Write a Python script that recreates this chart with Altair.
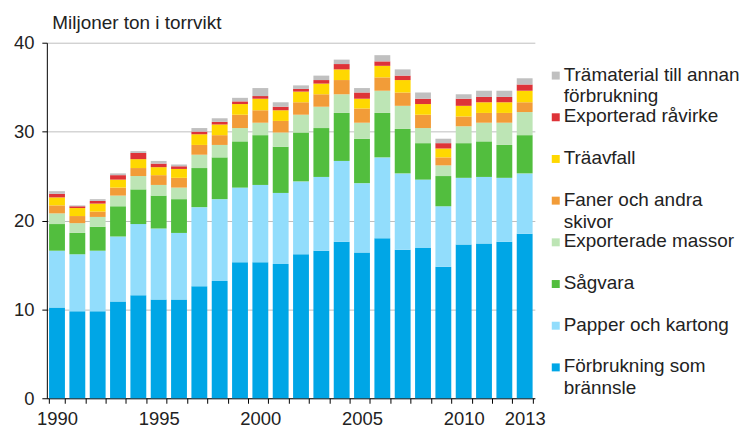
import altair as alt
import pandas as pd

years = [str(y) for y in range(1990, 2014)]

# stack order: bottom -> top
categories = [
    "Förbrukning som brännsle",
    "Papper och kartong",
    "Sågvara",
    "Exporterade massor",
    "Faner och andra skivor",
    "Träavfall",
    "Exporterad råvirke",
    "Trämaterial till annan förbrukning",
]
label_line1 = [
    "Förbrukning som",
    "Papper och kartong",
    "Sågvara",
    "Exporterade massor",
    "Faner och andra",
    "Träavfall",
    "Exporterad råvirke",
    "Trämaterial till annan",
]
label_line2 = ["brännsle", "", "", "", "skivor", "", "", "förbrukning"]
colors = ["#00A6E6", "#92DDFC", "#52BE3E", "#BDE5B5", "#F29C38", "#FFD800", "#DE3338", "#C0C0C0"]

fuel = [10.2, 9.8, 9.8, 10.9, 11.6, 11.1, 11.1, 12.6, 13.2, 15.3, 15.3, 15.1,
        16.2, 16.6, 17.6, 16.4, 18.0, 16.7, 16.9, 14.8, 17.3, 17.4, 17.6, 18.5]
paper = [6.4, 6.4, 6.8, 7.3, 8.0, 8.0, 7.5, 8.9, 9.2, 8.4, 8.7, 8.0,
         8.2, 8.3, 9.1, 7.8, 9.1, 8.6, 7.7, 6.8, 7.5, 7.5, 7.2, 6.8]
sawn = [3.0, 2.4, 2.7, 3.4, 3.9, 3.7, 3.8, 4.4, 4.7, 5.2, 5.6, 5.2,
        5.5, 5.5, 5.4, 5.0, 5.0, 5.0, 4.1, 3.4, 3.9, 4.0, 3.7, 4.3]
pulp = [1.2, 1.1, 1.1, 1.2, 1.5, 1.2, 1.3, 1.5, 1.4, 1.5, 1.4, 1.6,
        2.0, 2.4, 2.1, 1.8, 2.5, 2.6, 1.7, 1.2, 1.9, 2.1, 2.5, 2.6]
panels = [0.9, 0.8, 0.6, 0.9, 0.9, 1.1, 1.1, 1.1, 1.1, 1.5, 1.4, 1.3,
          1.4, 1.4, 1.6, 1.6, 1.5, 1.5, 1.5, 0.9, 1.1, 1.1, 1.1, 1.1]
waste = [0.9, 0.9, 0.9, 0.9, 1.0, 0.9, 1.0, 1.2, 1.2, 1.2, 1.3, 1.2,
         1.2, 1.2, 1.2, 1.1, 1.3, 1.4, 1.2, 1.0, 1.2, 1.2, 1.2, 1.3]
roundwood = [0.4, 0.2, 0.3, 0.5, 0.7, 0.4, 0.3, 0.3, 0.3, 0.3, 0.3, 0.4,
             0.3, 0.4, 0.6, 0.7, 0.5, 0.5, 0.6, 0.6, 0.8, 0.6, 0.6, 0.7]
other = [0.3, 0.1, 0.2, 0.2, 0.2, 0.3, 0.2, 0.4, 0.4, 0.4, 0.9, 0.5,
         0.4, 0.5, 0.5, 0.5, 0.7, 0.7, 0.7, 0.5, 0.5, 0.7, 0.7, 0.7]

shown_years = ["1990", "1995", "2000", "2005", "2010", "2013"]

series = [fuel, paper, sawn, pulp, panels, waste, roundwood, other]
rows = []
for i, (cat, vals) in enumerate(zip(categories, series)):
    for yr, v in zip(years, vals):
        rows.append({"year": yr, "category": cat, "value": v, "ord": i})
df = pd.DataFrame(rows)

FONT = "Liberation Sans"
TXT = "#222222"

color_scale = alt.Scale(domain=categories, range=colors)

label_expr = "indexof(" + str(shown_years) + ", datum.label) >= 0 ? datum.label : ''"

bars = alt.Chart(df).mark_bar().encode(
    x=alt.X("year:O", sort=years,
            scale=alt.Scale(paddingInner=0.22, paddingOuter=0.11),
            axis=alt.Axis(title=None, tickBand="extent", labelExpr=label_expr,
                          labelAngle=0, labelFontSize=18.5, labelFont=FONT, labelColor=TXT,
                          labelPadding=6, labelOverlap=False, labelFlush=False,
                          tickSize=5, tickColor="#000000", domainColor="#000000",
                          grid=False)),
    y=alt.Y("value:Q", stack="zero",
            scale=alt.Scale(domain=[0, 40]),
            axis=alt.Axis(values=[0, 10, 20, 30, 40], title="Miljoner ton i torrvikt",
                          titleAngle=0, titleX=5, titleY=-20, titleAlign="left",
                          titleBaseline="middle", titleFont=FONT, titleFontSize=19,
                          titleFontWeight="normal", titleColor=TXT,
                          labelFontSize=18.5, labelFont=FONT, labelColor=TXT, labelPadding=8,
                          tickSize=5, tickColor="#000000", domainColor="#000000",
                          gridColor="#BEBEBE", gridWidth=1)),
    color=alt.Color("category:N", scale=color_scale, legend=None),
    order=alt.Order("ord:Q", sort="ascending"),
).properties(width=490, height=357)

legend_order = list(reversed(categories))
leg_df = pd.DataFrame({"category": categories, "line1": label_line1, "line2": label_line2})

ybase = alt.Y("category:N", sort=legend_order,
              scale=alt.Scale(domain=legend_order, range=[33, 326], padding=0),
              axis=None)

sym = alt.Chart(leg_df).mark_square(size=64, opacity=1).encode(
    x=alt.value(4), y=ybase,
    color=alt.Color("category:N", scale=color_scale, legend=None))
t1 = alt.Chart(leg_df).mark_text(align="left", baseline="middle", fontSize=19,
                                 font=FONT, color=TXT, dy=-1).encode(
    x=alt.value(12), y=ybase, text="line1:N")
t2 = alt.Chart(leg_df).mark_text(align="left", baseline="middle", fontSize=19,
                                 font=FONT, color=TXT, dy=21).encode(
    x=alt.value(12), y=ybase, text="line2:N")
legend = alt.layer(sym, t1, t2).properties(width=180, height=357)

chart = alt.hconcat(bars, legend, spacing=6).properties(
    padding={"left": 5, "top": 5, "right": 0, "bottom": 0}
).configure(font=FONT).configure_view(stroke=None)

chart.save("out.html", embed_options={"renderer": "svg", "actions": False})
